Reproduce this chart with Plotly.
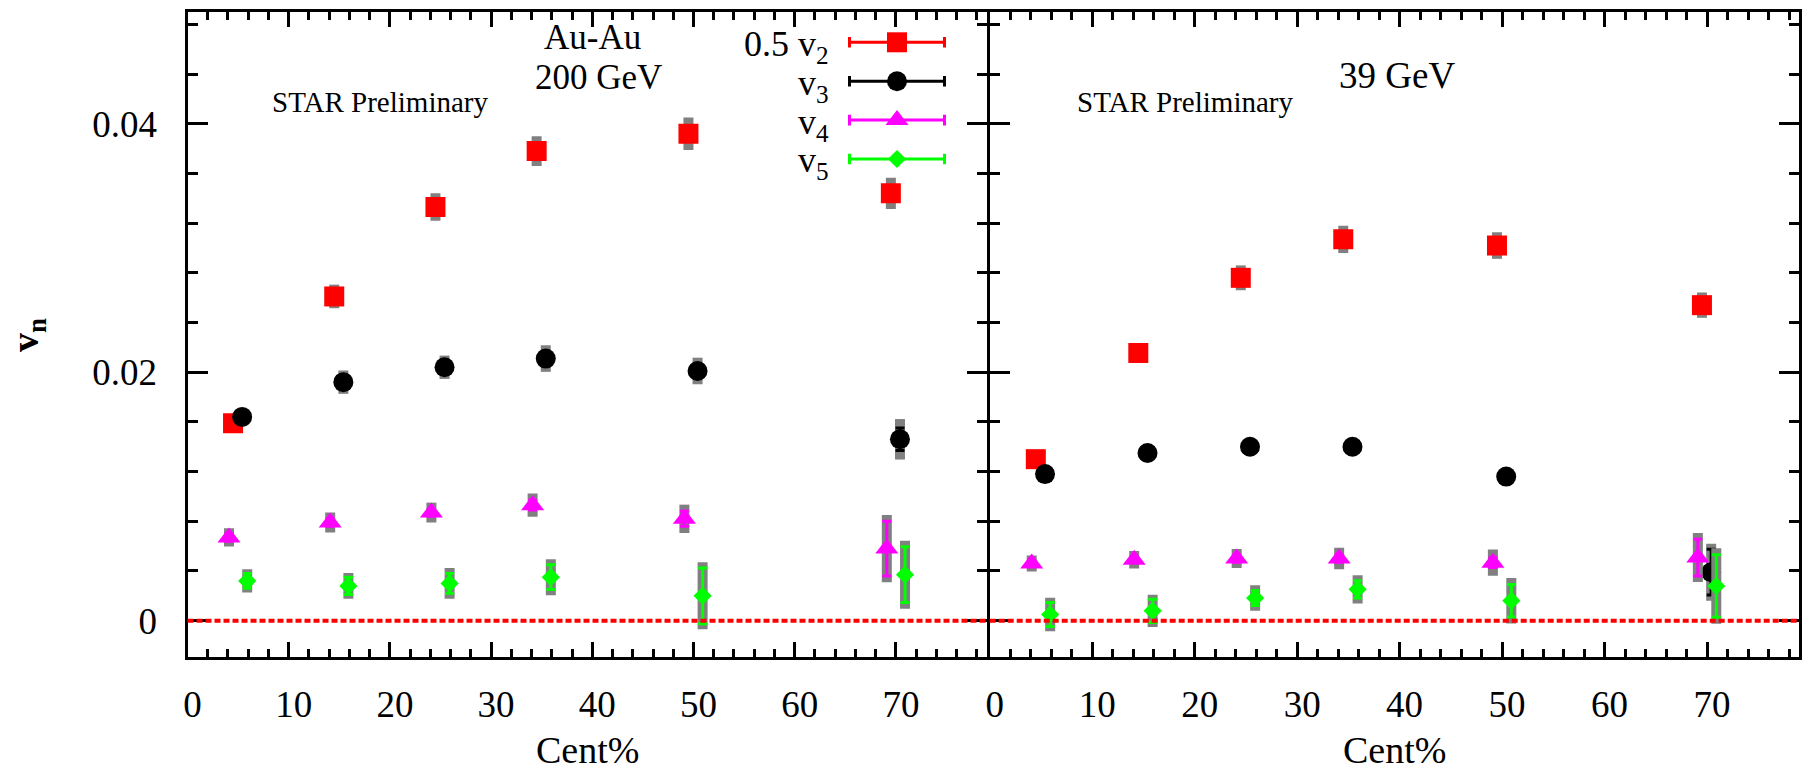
import plotly.graph_objects as go

# ---------------- data ----------------
series_names = ["0.5 v<sub>2</sub>", "v<sub>3</sub>", "v<sub>4</sub>", "v<sub>5</sub>"]

cent_v2 = [4.5, 14.5, 24.5, 34.5, 49.5, 69.5]
cent_v3 = [5.4, 15.4, 25.4, 35.4, 50.4, 70.4]
cent_v4 = [4.1, 14.1, 24.1, 34.1, 49.1, 69.1]
cent_v5 = [5.9, 15.9, 25.9, 35.9, 50.9, 70.9]

# Au-Au 200 GeV
au200_v2half = [0.0159, 0.0261, 0.0333, 0.0378, 0.0392, 0.0344]
au200_v2half_stat = [0.0002, 0.0003, 0.0003, 0.0004, 0.0005, 0.0006]
au200_v2half_sys = [0.0004, 0.00095, 0.0011, 0.0012, 0.0013, 0.00125]

au200_v3 = [0.0164, 0.0192, 0.0204, 0.0211, 0.0201, 0.0146]
au200_v3_stat = [0.0002, 0.0003, 0.0003, 0.0004, 0.0004, 0.0009]
au200_v3_sys = [0.0004, 0.00094, 0.00094, 0.00107, 0.00107, 0.00163]

au200_v4 = [0.0067, 0.0079, 0.0087, 0.0093, 0.0082, 0.0058]
au200_v4_stat = [0.0003, 0.0003, 0.0003, 0.0004, 0.0006, 0.0022]
au200_v4_sys = [0.00074, 0.0008, 0.0008, 0.00094, 0.00114, 0.0027]

au200_v5 = [0.0032, 0.0028, 0.0030, 0.0035, 0.0020, 0.0037]
au200_v5_stat = [0.0006, 0.0007, 0.0008, 0.0010, 0.00224, 0.00224]
au200_v5_sys = [0.00094, 0.00103, 0.00123, 0.00145, 0.0027, 0.00274]

# Au-Au 39 GeV
au39_v2half = [0.0130, 0.02155, 0.0276, 0.0307, 0.0302, 0.0254]
au39_v2half_stat = [0.0002, 0.0003, 0.0003, 0.0004, 0.0004, 0.0005]
au39_v2half_sys = [0.0006, 0.0007, 0.0010, 0.0011, 0.00107, 0.00102]

au39_v3 = [0.0118, 0.0135, 0.0140, 0.0140, 0.0116, 0.0039]
au39_v3_stat = [0.0002, 0.0002, 0.0003, 0.0003, 0.0003, 0.00184]
au39_v3_sys = [0.0005, 0.0005, 0.0005, 0.0005, 0.0006, 0.0023]

au39_v4 = [0.0046, 0.0049, 0.0050, 0.0050, 0.00467, 0.00508]
au39_v4_stat = [0.0002, 0.0002, 0.0003, 0.0003, 0.0004, 0.00148]
au39_v4_sys = [0.00065, 0.0007, 0.00077, 0.00087, 0.00105, 0.00197]

au39_v5 = [0.00049, 0.00079, 0.00182, 0.00252, 0.00161, 0.00279]
au39_v5_stat = [0.00097, 0.00094, 0.0006, 0.0007, 0.00131, 0.00252]
au39_v5_sys = [0.00135, 0.0013, 0.00103, 0.00114, 0.00183, 0.00303]

x_tick_vals = [0, 10, 20, 30, 40, 50, 60, 70]
y_tick_vals = [0, 0.02, 0.04]
y_tick_text = ["0", "0.02", "0.04"]

# ---------------- styles / layout constants ----------------
W, H = 1802, 772
FONT = "Liberation Serif"
colors = ["#ff0000", "#000000", "#ff00ff", "#00ff00"]
symbols = ["square", "circle", "triangle-up", "diamond"]
msizes = [20, 20, 20, 14]
SYS_COLOR = "#808080"

X_RANGE = [0, 79]
Y_RANGE = [-0.00295, 0.049]

LEFT_DOM = [187.5 / W, 987.0 / W]
RIGHT_DOM = [989.7 / W, 1799.3 / W]
Y_DOM = [1 - 657.3 / H, 1 - 12.0 / H]

fig = go.Figure()

panels = [
    ("x", "y", [cent_v2, cent_v3, cent_v4, cent_v5],
     [(au200_v2half, au200_v2half_stat, au200_v2half_sys),
      (au200_v3, au200_v3_stat, au200_v3_sys),
      (au200_v4, au200_v4_stat, au200_v4_sys),
      (au200_v5, au200_v5_stat, au200_v5_sys)]),
    ("x2", "y2", [cent_v2, cent_v3, cent_v4, cent_v5],
     [(au39_v2half, au39_v2half_stat, au39_v2half_sys),
      (au39_v3, au39_v3_stat, au39_v3_sys),
      (au39_v4, au39_v4_stat, au39_v4_sys),
      (au39_v5, au39_v5_stat, au39_v5_sys)]),
]

for xa, ya, cents, sets in panels:
    for i, (vals, stat, sys) in enumerate(sets):
        # systematic error (grey band)
        fig.add_trace(go.Scatter(
            x=cents[i], y=vals, xaxis=xa, yaxis=ya, mode="markers",
            marker=dict(size=1, color="rgba(0,0,0,0)"),
            error_y=dict(type="data", array=sys, visible=True, color=SYS_COLOR,
                         thickness=10, width=0),
            showlegend=False, hoverinfo="skip"))
        # statistical error + marker
        fig.add_trace(go.Scatter(
            x=cents[i], y=vals, xaxis=xa, yaxis=ya, mode="markers",
            marker=dict(symbol=symbols[i], size=msizes[i], color=colors[i],
                        line=dict(width=0)),
            error_y=dict(type="data", array=stat, visible=True, color=colors[i],
                         thickness=3, width=4.5),
            name=series_names[i], showlegend=False))

# ---------------- custom legend (marker with horizontal error bar) ----------------
LEG_MX = 897.0
LEG_Y0 = 42.3
LEG_DY = 38.9
LEG_HALF = 47.5
LEG_TEXT_X = 830.0
for i in range(4):
    ly = LEG_Y0 + i * LEG_DY
    fig.add_trace(go.Scatter(
        x=[LEG_MX], y=[ly], xaxis="x3", yaxis="y3", mode="markers",
        marker=dict(symbol=symbols[i], size=msizes[i], color=colors[i], line=dict(width=0)),
        error_x=dict(type="constant", value=LEG_HALF, visible=True, color=colors[i],
                     thickness=3, width=5.3),
        showlegend=False, hoverinfo="skip"))

axis_common = dict(
    showline=True, linecolor="black", linewidth=3, mirror="ticks",
    ticks="inside", tickcolor="black", tickwidth=2.5,
    showgrid=False, zeroline=False, automargin=False,
    tickfont=dict(family=FONT, size=37, color="black"),
)

xaxis_common = dict(axis_common, range=X_RANGE, tickmode="array", tickvals=x_tick_vals,
                    ticklen=15, ticklabelstandoff=12, ticklabelshift=5,
                    minor=dict(ticks="inside", ticklen=8, tickwidth=2.5, tickcolor="black",
                               dtick=2, tick0=0, showgrid=False))
yaxis_common = dict(axis_common, range=Y_RANGE, tickmode="array", tickvals=y_tick_vals,
                    ticktext=y_tick_text, ticklen=20, ticklabelstandoff=20,
                    minor=dict(ticks="inside", ticklen=10, tickwidth=2.5, tickcolor="black",
                               dtick=0.004, tick0=0, showgrid=False))

fig.update_layout(
    width=W, height=H, autosize=False,
    margin=dict(l=0, r=0, t=0, b=0, pad=0),
    paper_bgcolor="white", plot_bgcolor="rgba(0,0,0,0)",
    template="none",
    xaxis=dict(xaxis_common, domain=LEFT_DOM, anchor="y"),
    yaxis=dict(yaxis_common, domain=Y_DOM, anchor="x"),
    xaxis2=dict(xaxis_common, domain=RIGHT_DOM, anchor="y2"),
    yaxis2=dict(yaxis_common, domain=Y_DOM, anchor="x2", showticklabels=False),
    xaxis3=dict(domain=[0, 1], range=[0, W], visible=False, anchor="y3", fixedrange=True),
    yaxis3=dict(domain=[0, 1], range=[H, 0], visible=False, anchor="x3", fixedrange=True),
    showlegend=False,
)

# zero reference lines
for xr, yr in [("x domain", "y"), ("x2 domain", "y2")]:
    fig.add_shape(type="line", xref=xr, yref=yr, x0=0, x1=1, y0=0, y1=0,
                  line=dict(color="#ff0000", width=4, dash="6px,3px"), layer="above")


def px_x(p):
    return p / W


def px_y(p):
    return 1 - p / H


def ann(text, x, y, size, xanchor="center", yanchor="middle", angle=0, pad=1):
    fig.add_annotation(text=text, x=px_x(x), y=px_y(y), xref="paper", yref="paper",
                       xanchor=xanchor, yanchor=yanchor, showarrow=False, textangle=angle,
                       borderpad=pad,
                       font=dict(family=FONT, size=size, color="black"))


ann("STAR Preliminary", 380, 102, 29)
ann("STAR Preliminary", 1184.6, 102, 29)
ann("Au-Au", 592.5, 38, 35, pad=0)
ann("200 GeV", 598, 77, 35, pad=0)
ann("39 GeV", 1396.6, 75.5, 37)
ann("Cent%", 587, 750, 38)
ann("Cent%", 1394.5, 750, 38)
ann("<b>v<sub>n</sub></b>", 28, 335, 38, angle=-90)

for i in range(4):
    ly = LEG_Y0 + i * LEG_DY
    ann(series_names[i], LEG_TEXT_X, ly + 4, 36, xanchor="right", pad=0)

fig.write_html("out.html")
